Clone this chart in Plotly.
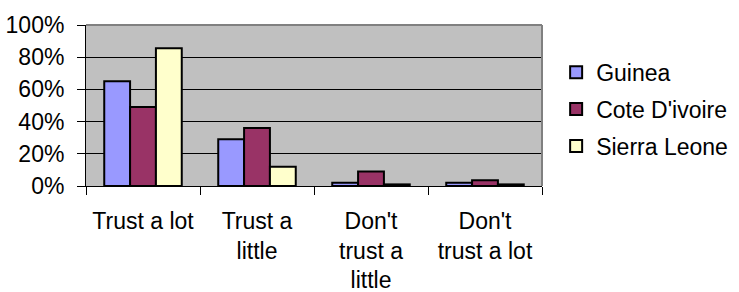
import plotly.graph_objects as go

categories = ["Trust a lot", "Trust a<br>little", "Don't<br>trust a<br>little", "Don't<br>trust a lot"]
guinea = [0.65, 0.29, 0.02, 0.02]
cote_divoire = [0.49, 0.36, 0.09, 0.035]
sierra_leone = [0.855, 0.12, 0.01, 0.01]
series_names = ["Guinea", "Cote D'ivoire", "Sierra Leone"]
series_colors = ["#9999FF", "#993366", "#FFFFCC"]

FONT = "Liberation Sans, Arial, sans-serif"

fig = go.Figure()
for i, (name, vals, col) in enumerate(zip(series_names, [guinea, cote_divoire, sierra_leone], series_colors)):
    fig.add_trace(go.Bar(
        x=categories, y=vals, name=name, legendgroup=f"g{i}",
        marker=dict(color=col, line=dict(color="black", width=2)),
    ))

fig.update_layout(
    width=739, height=292, autosize=False,
    margin=dict(l=86, r=197, t=25, b=106, pad=0, autoexpand=False),
    paper_bgcolor="white", plot_bgcolor="#C0C0C0",
    font=dict(family=FONT, size=23, color="black"),
    barmode="group", bargap=0.32, bargroupgap=0,
    showlegend=True,
    legend=dict(
        x=1.031, xanchor="left", y=0.84, yanchor="top",
        font=dict(family=FONT, size=23, color="black"),
        traceorder="grouped", tracegroupgap=4,
        bgcolor="rgba(0,0,0,0)", itemclick=False,
    ),
    xaxis=dict(
        type="category", tickson="boundaries", ticks="outside", ticklen=8,
        tickcolor="black", showline=True, linecolor="black", linewidth=1,
        showgrid=False, tickfont=dict(size=23), ticklabelstandoff=14,
        tickangle=0, automargin=False, fixedrange=True,
    ),
    yaxis=dict(
        range=[0, 1], dtick=0.2, tickformat=".0%", ticks="outside", ticklen=8,
        tickcolor="black", showline=True, linecolor="black", linewidth=1,
        showgrid=True, gridcolor="black", gridwidth=1, zeroline=False,
        tickfont=dict(size=23), ticklabelstandoff=8, automargin=False,
        fixedrange=True,
    ),
)

# gray top and right borders of plot area
fig.add_shape(type="line", xref="x domain", yref="y domain", x0=0, x1=1, y0=1, y1=1,
              line=dict(color="#808080", width=2), layer="above")
fig.add_shape(type="line", xref="x domain", yref="y domain", x0=1, x1=1, y0=0, y1=1,
              line=dict(color="#808080", width=2), layer="above")

fig.write_html("out.html", config=dict(displayModeBar=False, responsive=False),
               post_script="document.body.style.margin='0';")
